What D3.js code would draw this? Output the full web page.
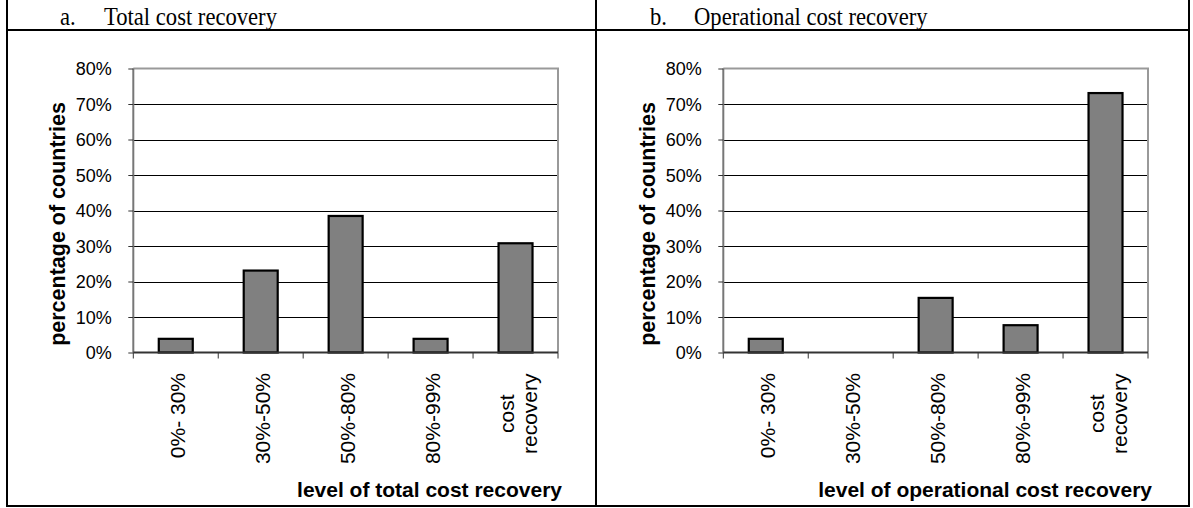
<!DOCTYPE html>
<html><head><meta charset="utf-8">
<script src="https://cdn.jsdelivr.net/npm/d3@7"></script>
<style>body{margin:0;background:#fff}</style>
</head><body>
<svg id="c" width="1193" height="508"></svg>
<script>
const categories = ["0%- 30%", "30%-50%", "50%-80%", "80%-99%", "cost\nrecovery"];
const totalValues = [3.85, 23.08, 38.46, 3.85, 30.77];
const operationalValues = [3.85, 0, 15.38, 7.69, 73.08];
const yTicks = [0, 10, 20, 30, 40, 50, 60, 70, 80];
const panelHeaders = [["a.", "Total cost recovery"], ["b.", "Operational cost recovery"]];
const xTitles = ["level of total cost recovery", "level of operational cost recovery"];
const yTitle = "percentage of countries";

const svg = d3.select("#c");
const sans = "'Liberation Sans', Arial, sans-serif";
const serif = "'Liberation Serif', 'Times New Roman', serif";

// table frame
const frame = svg.append("g").attr("stroke", "#000").attr("stroke-width", 2);
frame.append("line").attr("x1", 7).attr("x2", 7).attr("y1", -2).attr("y2", 507);
frame.append("line").attr("x1", 1189).attr("x2", 1189).attr("y1", -2).attr("y2", 507);
frame.append("line").attr("x1", 596).attr("x2", 596).attr("y1", -2).attr("y2", 507);
frame.append("line").attr("x1", 6).attr("x2", 1190).attr("y1", 30).attr("y2", 30);
frame.append("line").attr("x1", 6).attr("x2", 1190).attr("y1", 506).attr("y2", 506);

function panel(offset, values, header, xTitle) {
  const g = svg.append("g").attr("transform", `translate(${offset},0)`);
  // header
  g.append("text").attr("transform", "translate(60,25) scale(0.87,1)").attr("font-family", serif).attr("font-size", 26).text(header[0]);
  g.append("text").attr("transform", "translate(104,25) scale(0.87,1)").attr("font-family", serif).attr("font-size", 26).text(header[1]);

  const x0 = 133.3, x1 = 558;
  const x = d3.scaleBand().domain(categories).range([x0, x1]).paddingInner(0.6).paddingOuter(0.3);
  const y = d3.scaleLinear().domain([0, 80]).range([352.5, 68.5]);
  const step = x.step();

  // gridlines
  g.append("g").selectAll("line").data(yTicks.filter(t => t > 0 && t < 80)).join("line")
    .attr("x1", x0).attr("x2", x1).attr("y1", d => Math.round(y(d)) + 0.5).attr("y2", d => Math.round(y(d)) + 0.5)
    .attr("stroke", "#000").attr("stroke-width", 1);
  // plot border top/right
  g.append("path").attr("d", `M${x0},${y(80)}H${x1}V${y(0)}`).attr("fill", "none").attr("stroke", "#999").attr("stroke-width", 2);

  // bars
  g.append("g").selectAll("rect").data(values.map((v, i) => ({c: categories[i], v})).filter(d => d.v > 0)).join("rect")
    .attr("x", d => x(d.c)).attr("width", x.bandwidth())
    .attr("y", d => y(d.v)).attr("height", d => y(0) - y(d.v))
    .attr("fill", "#808080").attr("stroke", "#000").attr("stroke-width", 2.2);

  // y axis
  const ya = g.append("g").attr("transform", `translate(${x0},0)`)
    .call(d3.axisLeft(y).tickValues(yTicks).tickSize(5).tickFormat(d => d + "%"));
  ya.select(".domain").attr("stroke", "#777").attr("stroke-width", 2).attr("d", `M0,${y(80)}V${y(0)}`);
  ya.selectAll(".tick line").attr("stroke", "#333");
  ya.selectAll(".tick text").attr("font-family", sans).attr("font-size", 18).attr("fill", "#000")
    .attr("x", -21.5).attr("dy", "0.35em");

  // x axis
  const xa = g.append("g");
  xa.append("line").attr("x1", x0).attr("x2", x1).attr("y1", y(0)).attr("y2", y(0)).attr("stroke", "#333").attr("stroke-width", 2);
  xa.selectAll(".tk").data(d3.range(categories.length + 1)).join("line").attr("class", "tk")
    .attr("x1", i => x0 + i * step).attr("x2", i => x0 + i * step)
    .attr("y1", y(0)).attr("y2", y(0) + 6).attr("stroke", "#333").attr("stroke-width", 1);

  // x tick labels rotated
  categories.forEach(c => {
    const lines = c.split("\n");
    const cx = x(c) + x.bandwidth() / 2 + 2;
    const t = g.append("text").attr("font-family", sans).attr("font-size", 21)
      .attr("transform", `translate(${cx},373) rotate(-90)`)
      .attr("text-anchor", lines.length > 1 ? "middle" : "end");
    lines.forEach((l, i) => {
      t.append("tspan").attr("x", 0).attr("y", (i - (lines.length - 1) / 2) * 23)
        .attr("dominant-baseline", "central").text(l);
    });
    if (lines.length > 1) {
      const bb = t.node().getBBox();
      t.selectAll("tspan").attr("x", -(bb.x + bb.width));
    }
  });

  // axis titles
  g.append("text").attr("font-family", sans).attr("font-size", 21.5).attr("font-weight", "bold")
    .attr("text-anchor", "middle").attr("dominant-baseline", "central")
    .attr("transform", `translate(58,224) rotate(-90)`).text(yTitle);
  g.append("text").attr("font-family", sans).attr("font-size", 21).attr("font-weight", "bold")
    .attr("text-anchor", "end").attr("x", 562).attr("y", 497).text(xTitle);
}

panel(0, totalValues, panelHeaders[0], xTitles[0]);
panel(590, operationalValues, panelHeaders[1], xTitles[1]);
</script>
</body></html>
